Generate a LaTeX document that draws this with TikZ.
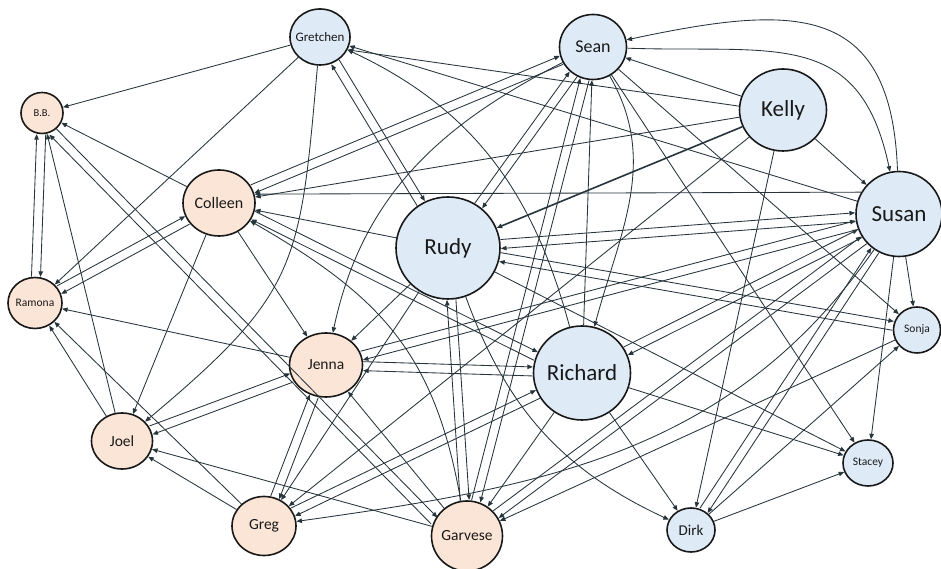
\documentclass[tikz,border=0pt]{standalone}
\usepackage{fontspec}
\setmainfont{Carlito}
\usetikzlibrary{arrows.meta,calc,shapes.geometric}
\definecolor{peach}{HTML}{FBE5D6}
\definecolor{lblue}{HTML}{DEEBF7}
\definecolor{edgec}{HTML}{26343C}
\newcommand\fsz[1]{\fontsize{#1}{#1}\selectfont}
\newcommand\nm[1]{\makebox[0pt]{#1}}
\newcommand\pedge[2]{\draw[e,transform canvas={shift={($(#1)!4.5pt!90:(#2)-(#1)$)}}] (#1) -- (#2);}
\begin{document}
\begin{tikzpicture}[x=1pt,y=1pt,
  nd/.style={ellipse,draw=black!90,line width=1.6pt,inner sep=0pt,text=black!90},
  fem/.style={nd,fill=peach},
  mal/.style={nd,fill=lblue},
  e/.style={draw=edgec,line width=0.85pt,-{Triangle[length=5.5pt,width=4.5pt]}}]
\fill[white] (0,0) rectangle (941,569);
\useasboundingbox (0,0) rectangle (941,569);
% nodes
\node[mal,minimum width=60pt,minimum height=56pt,font=\fsz{13}] (Gretchen) at (320,532) {\nm{Gretchen}};
\node[fem,minimum width=42pt,minimum height=41pt,font=\fsz{10.5}] (BB) at (42,456) {\nm{B.B.}};
\node[fem,minimum width=72pt,minimum height=66pt,font=\fsz{16}] (Colleen) at (219,366) {\nm{Colleen}};
\node[fem,minimum width=54pt,minimum height=51pt,font=\fsz{11.5}] (Ramona) at (35,266) {\nm{Ramona}};
\node[fem,minimum width=73pt,minimum height=64pt,font=\fsz{15.5}] (Jenna) at (326,204) {\nm{Jenna}};
\node[fem,minimum width=61pt,minimum height=56pt,font=\fsz{15.5}] (Joel) at (122,128) {\nm{Joel}};
\node[fem,minimum width=64pt,minimum height=59pt,font=\fsz{15.5}] (Greg) at (264,43) {\nm{Greg}};
\node[fem,minimum width=71pt,minimum height=70pt,font=\fsz{15.5}] (Garvese) at (467,33) {\nm{Garvese}};
\node[mal,minimum width=104pt,minimum height=102pt,font=\fsz{23}] (Rudy) at (448,321) {\nm{Rudy}};
\node[mal,minimum width=67pt,minimum height=65pt,font=\fsz{18}] (Sean) at (593,522) {\nm{Sean}};
\node[mal,minimum width=87pt,minimum height=82pt,font=\fsz{23}] (Kelly) at (783,459) {\nm{Kelly}};
\node[mal,minimum width=86pt,minimum height=85pt,font=\fsz{23}] (Susan) at (899,355) {\nm{Susan}};
\node[mal,minimum width=97pt,minimum height=94pt,font=\fsz{23}] (Richard) at (582,196) {\nm{Richard}};
\node[mal,minimum width=48pt,minimum height=44pt,font=\fsz{15}] (Dirk) at (691,39) {\nm{Dirk}};
\node[mal,minimum width=50pt,minimum height=46pt,font=\fsz{11.5}] (Stacey) at (868,106) {\nm{Stacey}};
\node[mal,minimum width=47pt,minimum height=46pt,font=\fsz{11.5}] (Sonja) at (917,239) {\nm{Sonja}};
% edges
\pedge{Gretchen}{Rudy}
\pedge{Rudy}{Gretchen}
\draw[e] (Gretchen) -- (BB);
\draw[e] (Gretchen) -- (Ramona);
\draw[e] (Gretchen) to[out=265,in=40,looseness=1.3] (Joel);
\draw[e] (Kelly.175) -- (Gretchen.-25);
\draw[e] (Susan) -- (Gretchen);
\draw[e] (Richard) to[out=105,in=-25] (Gretchen);
\draw[e] (Colleen) -- (BB);
\pedge{Garvese.155}{BB.-60}
\pedge{BB.-60}{Garvese.155}
\pedge{Ramona}{BB}
\pedge{BB}{Ramona}
\draw[e] (Joel) -- (BB);
\pedge{Colleen}{Ramona}
\pedge{Ramona}{Colleen}
\draw[e] (Jenna) -- (Ramona);
\draw[e] (Joel) -- (Ramona);
\draw[e] (Greg) -- (Ramona);
\draw[e] (Colleen) -- (Joel);
\pedge{Jenna}{Joel}
\pedge{Joel}{Jenna}
\draw[e] (Garvese) -- (Joel);
\draw[e] (Greg) -- (Joel);
\draw[e] (Colleen) -- (Jenna);
\pedge{Colleen.-20}{Richard.160}
\pedge{Richard.160}{Colleen.-20}
\pedge{Sean}{Colleen}
\pedge{Colleen}{Sean}
\draw[e] (Kelly) -- (Colleen);
\draw[e] (Susan.150) -- (Colleen.14);
\draw[e] (Rudy) -- (Colleen);
\draw[e] (Garvese) to[out=100,in=-30,looseness=1.1] (Colleen);
\draw[e] (Sean) to[out=-2,in=102,looseness=1.3] (Susan);
\draw[e] (Susan) to[out=92,in=12,looseness=1.45] (Sean);
\draw[e] (Kelly) -- (Sean);
\draw[e,line width=1.6pt] (Kelly) -- (Rudy);
\draw[e] (Kelly) -- (Susan);
\draw[e] (Kelly) -- (Dirk);
\draw[e] (Kelly) -- (Greg);
\pedge{Sean}{Rudy}
\pedge{Rudy}{Sean}
\draw[e] (Sean) to[out=207,in=78] (Jenna);
\draw[e] (Sean) -- (Sonja);
\draw[e] (Sean) -- (Stacey);
\pedge{Sean}{Garvese}
\pedge{Garvese}{Sean}
\draw[e] (Sean) to[out=-60,in=75] (Richard);
\draw[e] (Richard) -- (Sean);
\draw[e] (Rudy) -- (Jenna);
\draw[e] (Rudy) -- (Greg);
\pedge{Rudy}{Garvese}
\pedge{Garvese}{Rudy}
\pedge{Rudy}{Susan}
\pedge{Susan}{Rudy}
\pedge{Rudy}{Sonja}
\pedge{Sonja}{Rudy}
\draw[e] (Rudy) -- (Stacey);
\draw[e] (Rudy) to[out=-70,in=155] (Dirk);
\pedge{Jenna}{Richard}
\pedge{Richard}{Jenna}
\pedge{Susan}{Richard}
\pedge{Richard}{Susan}
\pedge{Greg}{Richard}
\pedge{Richard}{Greg}
\draw[e] (Richard) -- (Dirk);
\draw[e] (Richard) -- (Stacey);
\draw[e] (Richard) -- (Garvese);
\pedge{Jenna}{Susan}
\pedge{Susan}{Jenna}
\draw[e] (Susan) -- (Sonja);
\draw[e] (Susan) -- (Stacey);
\draw[e] (Susan) to[out=235,in=8] (Greg);
\pedge{Susan}{Garvese}
\pedge{Garvese}{Susan}
\draw[e] (Sonja) -- (Garvese);
\pedge{Susan}{Dirk}
\pedge{Dirk}{Susan}
\draw[e] (Dirk) -- (Stacey);
\draw[e] (Dirk) -- (Sonja);
\pedge{Jenna}{Greg}
\pedge{Greg}{Jenna}
\draw[e] (Garvese) -- (Jenna);
\end{tikzpicture}
\end{document}
